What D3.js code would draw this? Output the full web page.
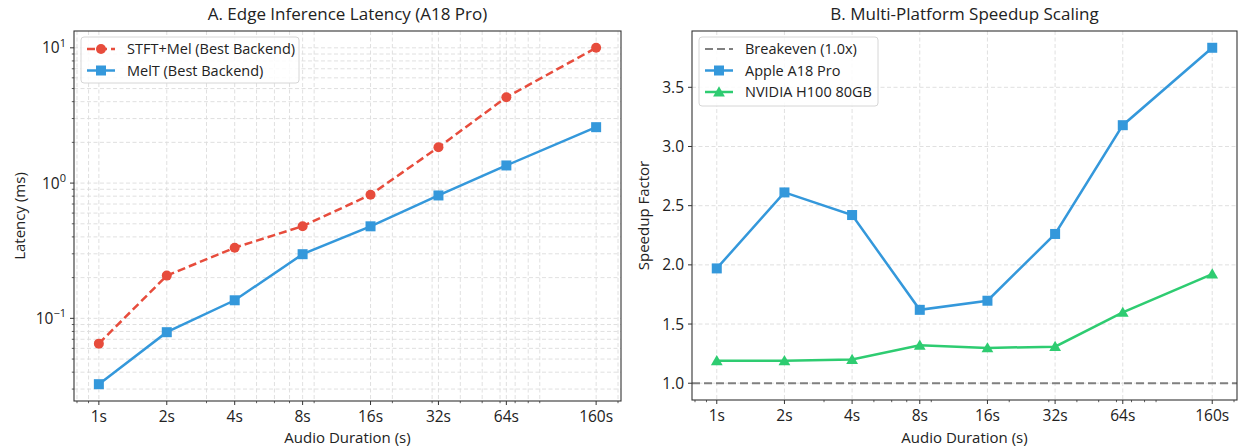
<!DOCTYPE html>
<html>
<head>
<meta charset="utf-8">
<script src="https://cdn.jsdelivr.net/npm/d3@7"></script>
<style>
  body { margin: 0; background: #fff; }
  svg { font-family: "Open Sans", sans-serif; }
</style>
</head>
<body>
<svg id="chart" width="1238" height="446"></svg>
<script>
// data
const durations = [1, 2, 4, 8, 16, 32, 64, 160];
const durationLabels = ["1s", "2s", "4s", "8s", "16s", "32s", "64s", "160s"];
const stftMel = [0.065, 0.207, 0.333, 0.48, 0.82, 1.84, 4.31, 10.0];
const melT = [0.0326, 0.079, 0.136, 0.298, 0.479, 0.81, 1.35, 2.59];
const appleSpeedup = [1.97, 2.612, 2.421, 1.62, 1.697, 2.261, 3.18, 3.834];
const nvidiaSpeedup = [1.19, 1.19, 1.2, 1.32, 1.298, 1.309, 1.598, 1.922];
const breakeven = 1.0;
const speedupTicks = [1.0, 1.5, 2.0, 2.5, 3.0, 3.5];

const RED = "#e74c3c", BLUE = "#3498db", GREEN = "#2ecc71", GRAY = "#808080";
const SPINE = "#333";

const svg = d3.select("#chart");

// x domain with matplotlib style 5% margin in log space
const lspan = Math.log2(160) * 0.05;
const xDomain = [Math.pow(2, -lspan), 160 * Math.pow(2, lspan)];

function minorLogTicks(lo, hi, skip) {
  const out = [];
  for (let e = -3; e <= 3; e++) {
    for (let k = 2; k <= 9; k++) {
      const v = k * Math.pow(10, e);
      if (v >= lo && v <= hi && !skip.some(s => Math.abs(s - v) < 1e-9)) out.push(v);
    }
  }
  return out;
}

function panel(opts) {
  const g = svg.append("g");
  const { x0, x1, y0, y1 } = opts;
  const x = d3.scaleLog().domain(xDomain).range([x0, x1]);
  const y = opts.y.range([y1, y0]);

  const grid = g.append("g");
  const xMinor = minorLogTicks(xDomain[0], xDomain[1], durations);

  // vertical grid
  const vLines = opts.xMinorGrid ? durations.concat(xMinor) : durations;
  grid.selectAll(".vg").data(vLines).enter().append("line")
    .attr("x1", d => x(d)).attr("x2", d => x(d))
    .attr("y1", y0).attr("y2", y1)
    .attr("stroke", "#dcdcdc").attr("stroke-width", 0.9)
    .attr("stroke-dasharray", "4,2.5");

  // horizontal grid
  grid.selectAll(".hg").data(opts.yGrid).enter().append("line")
    .attr("x1", x0).attr("x2", x1)
    .attr("y1", d => y(d)).attr("y2", d => y(d))
    .attr("stroke", "#dcdcdc").attr("stroke-width", 0.9)
    .attr("stroke-dasharray", "4,2.5");

  if (opts.extra) opts.extra(g, x, y);

  // series
  opts.series.forEach(s => {
    const line = d3.line().x((d, i) => x(durations[i])).y(d => y(d));
    g.append("path").datum(s.values)
      .attr("d", line)
      .attr("fill", "none")
      .attr("stroke", s.color)
      .attr("stroke-width", 2.5)
      .attr("stroke-dasharray", s.dash || null);
    s.values.forEach((v, i) => drawMarker(g, s.marker, x(durations[i]), y(v), s.color));
  });

  // spines
  g.append("rect").attr("x", x0).attr("y", y0)
    .attr("width", x1 - x0).attr("height", y1 - y0)
    .attr("fill", "none").attr("stroke", SPINE).attr("stroke-width", 1.1);

  // x ticks
  const xt = g.append("g");
  durations.forEach((d, i) => {
    xt.append("line").attr("x1", x(d)).attr("x2", x(d))
      .attr("y1", y1).attr("y2", y1 + 4).attr("stroke", SPINE);
    xt.append("text").attr("x", x(d)).attr("y", y1 + 21)
      .attr("text-anchor", "middle").attr("font-size", 15.5).attr("fill", "#222")
      .text(durationLabels[i]);
  });
  xMinor.forEach(d => {
    xt.append("line").attr("x1", x(d)).attr("x2", x(d))
      .attr("y1", y1).attr("y2", y1 + 2.2).attr("stroke", SPINE).attr("stroke-width", 0.8);
  });

  // y ticks
  const yt = g.append("g");
  opts.yTicks.forEach(d => {
    yt.append("line").attr("x1", x0 - 4).attr("x2", x0)
      .attr("y1", y(d)).attr("y2", y(d)).attr("stroke", SPINE);
    const t = yt.append("text").attr("x", x0 - 8).attr("y", y(d) + 5.5)
      .attr("text-anchor", "end").attr("font-size", 15.5).attr("fill", "#222");
    opts.yLabel(t, d);
  });
  (opts.yMinor || []).forEach(d => {
    yt.append("line").attr("x1", x0 - 2.2).attr("x2", x0)
      .attr("y1", y(d)).attr("y2", y(d)).attr("stroke", SPINE).attr("stroke-width", 0.8);
  });

  // labels
  g.append("text").attr("x", (x0 + x1) / 2).attr("y", 20)
    .attr("text-anchor", "middle").attr("font-size", 17).attr("fill", "#222")
    .text(opts.title);
  g.append("text").attr("x", (x0 + x1) / 2).attr("y", 443)
    .attr("text-anchor", "middle").attr("font-size", 15).attr("fill", "#222")
    .text("Audio Duration (s)");
  g.append("text")
    .attr("transform", `translate(${opts.yTitleX},${(y0 + y1) / 2}) rotate(-90)`)
    .attr("text-anchor", "middle").attr("font-size", 15).attr("fill", "#222")
    .text(opts.yTitle);

  // legend
  const lg = g.append("g").attr("transform", `translate(${opts.legend.x},${opts.legend.y})`);
  lg.append("rect").attr("width", opts.legend.w).attr("height", opts.legend.h)
    .attr("rx", 3).attr("fill", "#fff").attr("fill-opacity", 0.85)
    .attr("stroke", "#d6d6d6");
  opts.legend.items.forEach((it, i) => {
    const cy = 12 + i * 21.5;
    lg.append("line").attr("x1", 6).attr("x2", 34).attr("y1", cy).attr("y2", cy)
      .attr("stroke", it.color).attr("stroke-width", it.width || 2.5)
      .attr("stroke-dasharray", it.dash || null);
    if (it.marker) drawMarker(lg, it.marker, 20, cy, it.color);
    lg.append("text").attr("x", 46).attr("y", cy + 5)
      .attr("font-size", 14.5).attr("fill", "#222").text(it.label);
  });
}

function drawMarker(g, type, cx, cy, color) {
  if (type === "circle") {
    g.append("circle").attr("cx", cx).attr("cy", cy).attr("r", 5).attr("fill", color);
  } else if (type === "square") {
    g.append("rect").attr("x", cx - 5).attr("y", cy - 5).attr("width", 10).attr("height", 10)
      .attr("fill", color);
  } else if (type === "triangle") {
    g.append("path").attr("d", d3.symbol(d3.symbolTriangle, 60)())
      .attr("transform", `translate(${cx},${cy + 1})`).attr("fill", color);
  }
}

// left panel: log latency
const allLat = stftMel.concat(melT);
const lmin = Math.log10(d3.min(allLat)), lmax = Math.log10(d3.max(allLat));
const lm = (lmax - lmin) * 0.05;
const latDomain = [Math.pow(10, lmin - lm), Math.pow(10, lmax + lm)];
const latMajor = [0.1, 1, 10];
const latMinor = minorLogTicks(latDomain[0], latDomain[1], latMajor);
const supers = { "-1": "\u22121", "0": "0", "1": "1" };

panel({
  x0: 74, x1: 621, y0: 31, y1: 401,
  y: d3.scaleLog().domain(latDomain),
  yTicks: latMajor,
  yMinor: latMinor,
  yGrid: latMajor.concat(latMinor),
  xMinorGrid: true,
  yLabel: (t, d) => {
    t.append("tspan").text("10");
    t.append("tspan").attr("dy", -6.5).attr("font-size", 11)
      .text(supers[String(Math.round(Math.log10(d)))]);
  },
  title: "A. Edge Inference Latency (A18 Pro)",
  yTitle: "Latency (ms)",
  yTitleX: 25,
  series: [
    { values: stftMel, color: RED, marker: "circle", dash: "8,4" },
    { values: melT, color: BLUE, marker: "square" }
  ],
  legend: {
    x: 81, y: 37, w: 218, h: 46,
    items: [
      { label: "STFT+Mel (Best Backend)", color: RED, marker: "circle", dash: "8,4" },
      { label: "MelT (Best Backend)", color: BLUE, marker: "square" }
    ]
  }
});

// right panel: speedup
const allSp = appleSpeedup.concat(nvidiaSpeedup, [breakeven]);
const smin = d3.min(allSp), smax = d3.max(allSp);
const sm = (smax - smin) * 0.05;

panel({
  x0: 692, x1: 1237, y0: 31, y1: 400,
  y: d3.scaleLinear().domain([smin - sm, smax + sm]),
  yTicks: speedupTicks,
  yGrid: speedupTicks,
  xMinorGrid: false,
  yLabel: (t, d) => t.text(d.toFixed(1)),
  title: "B. Multi-Platform Speedup Scaling",
  yTitle: "Speedup Factor",
  yTitleX: 649,
  extra: (g, x, y) => {
    g.append("line").attr("x1", 692).attr("x2", 1237)
      .attr("y1", y(breakeven)).attr("y2", y(breakeven))
      .attr("stroke", GRAY).attr("stroke-width", 2.2).attr("stroke-dasharray", "8,4");
  },
  series: [
    { values: appleSpeedup, color: BLUE, marker: "square" },
    { values: nvidiaSpeedup, color: GREEN, marker: "triangle" }
  ],
  legend: {
    x: 699, y: 37, w: 179, h: 69,
    items: [
      { label: "Breakeven (1.0x)", color: GRAY, dash: "8,4", width: 2.2 },
      { label: "Apple A18 Pro", color: BLUE, marker: "square" },
      { label: "NVIDIA H100 80GB", color: GREEN, marker: "triangle" }
    ]
  }
});
</script>
</body>
</html>
